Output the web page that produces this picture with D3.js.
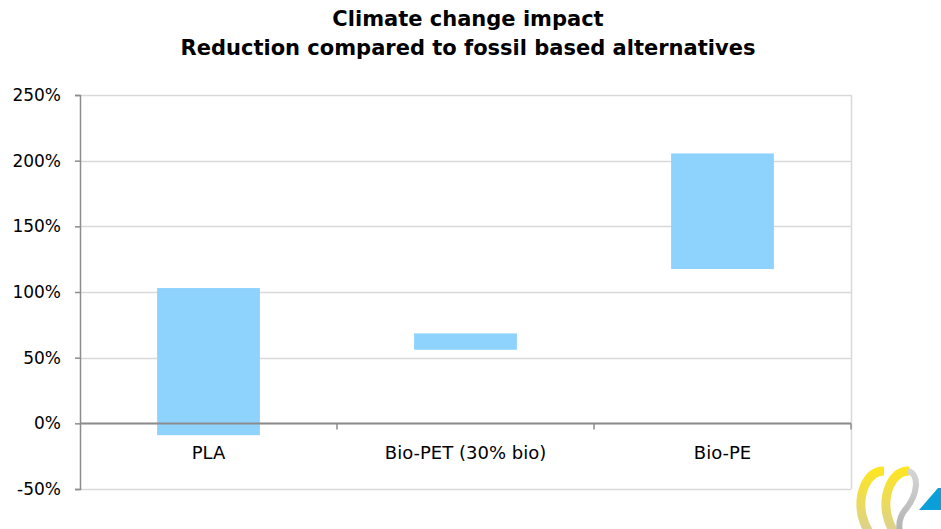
<!DOCTYPE html>
<html>
<head>
<meta charset="utf-8">
<script src="https://cdn.jsdelivr.net/npm/d3@7/dist/d3.min.js"></script>
<style>
  body { margin: 0; background: #fff; }
  text { font-family: "DejaVu Sans", sans-serif; fill: #000; }
</style>
</head>
<body>
<div id="chart"></div>
<script>
const categories = ["PLA", "Bio-PET (30% bio)", "Bio-PE"];
const lowValues = [-9, 56, 117.5];
const highValues = [103, 68.5, 205.5];
const yTicks = [-50, 0, 50, 100, 150, 200, 250];
const titleLines = ["Climate change impact", "Reduction compared to fossil based alternatives"];

const width = 941, height = 529;
const margin = { top: 95, right: 90, bottom: 40, left: 80 };
const plotRight = 851;

const svg = d3.select("#chart").append("svg")
  .attr("width", width)
  .attr("height", height);

const x = d3.scaleBand()
  .domain(categories)
  .range([margin.left, plotRight])
  .paddingInner(0.6)
  .paddingOuter(0.3);

const xBand = d3.scaleBand()
  .domain(categories)
  .range([margin.left, plotRight]);

const y = d3.scaleLinear()
  .domain([-50, 250])
  .range([489, margin.top]);

// grid lines
svg.append("g")
  .selectAll("line")
  .data(yTicks)
  .join("line")
  .attr("x1", margin.left)
  .attr("x2", plotRight)
  .attr("y1", d => Math.round(y(d)) + 0.5)
  .attr("y2", d => Math.round(y(d)) + 0.5)
  .attr("stroke", "#d9d9d9")
  .attr("stroke-width", 1.5);

// plot border on the right
svg.append("line")
  .attr("x1", plotRight + 0.5).attr("x2", plotRight + 0.5)
  .attr("y1", y(250)).attr("y2", y(-50))
  .attr("stroke", "#d9d9d9")
  .attr("stroke-width", 1.5);

// bars
svg.append("g")
  .selectAll("rect")
  .data(categories)
  .join("rect")
  .attr("x", d => x(d))
  .attr("width", x.bandwidth())
  .attr("y", (d, i) => y(highValues[i]))
  .attr("height", (d, i) => y(lowValues[i]) - y(highValues[i]))
  .attr("fill", "#8ed3fe");

// y axis
const yAxis = svg.append("g")
  .attr("transform", `translate(${margin.left},0)`)
  .call(d3.axisLeft(y).tickValues(yTicks).tickFormat(d => d + "%").tickSizeOuter(0).tickSize(5).tickPadding(14));
yAxis.select(".domain").attr("stroke", "#8c8c8c").attr("stroke-width", 1.5);
yAxis.selectAll(".tick line").attr("stroke", "#8c8c8c").attr("stroke-width", 1.5);
yAxis.selectAll(".tick text").style("font-size", "17px");

// x axis at zero
const zeroY = Math.round(y(0)) + 0.5;
svg.append("line")
  .attr("x1", margin.left).attr("x2", plotRight)
  .attr("y1", zeroY).attr("y2", zeroY)
  .attr("stroke", "#8c8c8c")
  .attr("stroke-width", 2);

svg.append("g")
  .selectAll("line")
  .data(categories.slice(1).map(c => xBand(c)).concat([plotRight]))
  .join("line")
  .attr("x1", d => d).attr("x2", d => d)
  .attr("y1", zeroY).attr("y2", zeroY + 6)
  .attr("stroke", "#8c8c8c")
  .attr("stroke-width", 1.5);

svg.append("g")
  .selectAll("text")
  .data(categories)
  .join("text")
  .attr("x", d => xBand(d) + xBand.bandwidth() / 2)
  .attr("y", zeroY + 35)
  .attr("text-anchor", "middle")
  .style("font-size", "18px")
  .text(d => d);

// title
svg.append("g")
  .selectAll("text")
  .data(titleLines)
  .join("text")
  .attr("x", 468)
  .attr("y", (d, i) => 26 + i * 29)
  .attr("text-anchor", "middle")
  .style("font-size", "21px")
  .style("font-weight", "bold")
  .text(d => d);

// logo, bottom right corner
const defs = svg.append("defs");
const grad = defs.append("linearGradient")
  .attr("id", "yel").attr("gradientUnits", "userSpaceOnUse")
  .attr("x1", 0).attr("y1", 468).attr("x2", 0).attr("y2", 529);
grad.append("stop").attr("offset", "0%").attr("stop-color", "#ffe61e");
grad.append("stop").attr("offset", "100%").attr("stop-color", "#dcd28c");
const gradG = defs.append("linearGradient")
  .attr("id", "gry").attr("gradientUnits", "userSpaceOnUse")
  .attr("x1", 0).attr("y1", 468).attr("x2", 0).attr("y2", 529);
gradG.append("stop").attr("offset", "0%").attr("stop-color", "#d6d6d6");
gradG.append("stop").attr("offset", "100%").attr("stop-color", "#b4b4b4");

const logo = svg.append("g");
logo.append("path")
  .attr("d", "M884,471 C866,471 858,495 862,515 C864,524 867,529 869,532")
  .attr("fill", "none").attr("stroke", "url(#yel)").attr("stroke-width", 9);
logo.append("path")
  .attr("d", "M909,471 C891,471 883,495 887,515 C889,524 892,529 894,532")
  .attr("fill", "none").attr("stroke", "url(#yel)").attr("stroke-width", 9);
logo.append("path")
  .attr("d", "M908,471 C920,474 918,495 905,510 C900,516 898,522 900,532")
  .attr("fill", "none").attr("stroke", "url(#gry)").attr("stroke-width", 6);
logo.append("path")
  .attr("d", "M919,510 L938,488 L941,488 L941,510 Z")
  .attr("fill", "#0a9fd8");
</script>
</body>
</html>
